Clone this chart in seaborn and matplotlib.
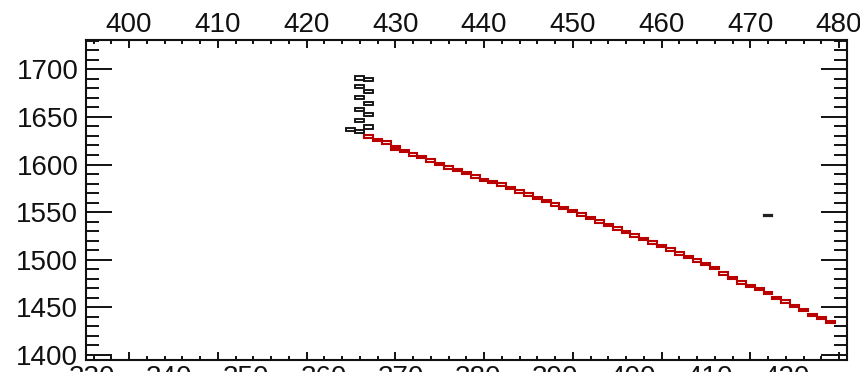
import numpy as np
import pandas as pd
import seaborn as sns
import matplotlib
matplotlib.use("Agg")
import matplotlib.pyplot as plt
from matplotlib.ticker import MultipleLocator

# ---------------- data ----------------
red_x = [427, 428, 429, 430, 430, 431, 432, 433, 434, 435, 436, 437, 438, 439,
         440, 441, 442, 443, 444, 445, 446, 447, 448, 449, 450, 451, 452, 453,
         454, 455, 456, 457, 458, 459, 460, 461, 462, 463, 464, 465, 466, 467,
         468, 469, 470, 471, 472, 473, 474, 475, 476, 477, 478, 479]
red_y = [1629.2, 1625.7, 1623.3, 1618.5, 1616.5, 1614.2, 1610.3, 1607.7, 1604.0,
         1600.5, 1597.0, 1594.0, 1591.0, 1587.6, 1584.0, 1581.6, 1578.8, 1575.3,
         1571.8, 1568.4, 1565.0, 1561.5, 1558.0, 1554.5, 1551.0, 1547.4, 1543.8,
         1540.2, 1536.6, 1533.0, 1529.3, 1525.6, 1521.9, 1518.2, 1514.4, 1510.6,
         1506.8, 1503.0, 1499.2, 1495.3, 1491.4, 1485.7, 1480.8, 1475.9, 1472.6,
         1469.0, 1465.0, 1459.8, 1456.3, 1451.6, 1447.2, 1442.2, 1438.8, 1434.6]

black_x = [426, 427, 426, 427, 426, 427, 426, 427, 426, 427, 425, 426]
black_y = [1690.9, 1689.5, 1681.7, 1677.2, 1670.4, 1663.8, 1658.0, 1652.2,
           1646.2, 1639.4, 1637.0, 1634.6]

lone_x = [472]
lone_y = [1546.1]

top_ticks = [400, 410, 420, 430, 440, 450, 460, 470, 480]
bottom_ticks = [330, 340, 350, 360, 370, 380, 390, 400, 410, 420]
y_ticks = [1400, 1450, 1500, 1550, 1600, 1650, 1700]

red_df = pd.DataFrame({"x": red_x, "y": red_y})
black_df = pd.DataFrame({"x": black_x, "y": black_y})
lone_df = pd.DataFrame({"x": lone_x, "y": lone_y})

# ---------------- style ----------------
sns.set_theme(style="ticks")
plt.rcParams["font.family"] = ["Liberation Sans", "DejaVu Sans"]
plt.rcParams["axes.linewidth"] = 1.4

FS = 20

fig = plt.figure(figsize=(8.6, 3.72), dpi=100)
fig.patch.set_facecolor("white")
ax = fig.add_axes([86 / 860, 1 - 360 / 372, (847 - 86) / 860, (360 - 40) / 372])
ax.set_facecolor("white")

RED = "#bb0000"


def boxes(df, h, color, lw):
    ax.bar(df["x"], h, bottom=df["y"] - h / 2, width=1.0, fill=False,
           edgecolor=color, linewidth=lw, align="center")


boxes(red_df, 2.6, RED, 1.5)
boxes(black_df, 3.2, "#111111", 1.35)
boxes(lone_df, 1.2, "#222222", 1.6)

ax.set_xlim(395.15, 480.9)
ax.set_ylim(1394.7, 1730.8)

ax.set_xticks(top_ticks)
ax.xaxis.set_minor_locator(MultipleLocator(2))
ax.set_yticks(y_ticks)
ax.yaxis.set_minor_locator(MultipleLocator(10))

ax.tick_params(axis="x", which="both", direction="in", top=True, bottom=True,
               labeltop=True, labelbottom=False, width=1.4, colors="#111111",
               labelsize=FS, pad=1.5)
ax.tick_params(axis="x", which="major", length=5.8)
ax.tick_params(axis="x", which="minor", length=3.2)
ax.tick_params(axis="y", which="both", direction="in", left=True, right=True,
               labelleft=True, width=1.4, colors="#111111", labelsize=FS, pad=5.5)
ax.tick_params(axis="y", which="major", length=18.5)
ax.tick_params(axis="y", which="minor", length=9.2)
for s in ax.spines.values():
    s.set_color("#111111")
    s.set_linewidth(1.5)
ax.grid(False)


# bottom axis with its own (offset) labelling, clipped by the figure edge
def fwd(t):
    return 334.79 + 1.1496 * (np.asarray(t) - 400.0)


def inv(b):
    return 400.0 + (np.asarray(b) - 334.79) / 1.1496


sec = ax.secondary_xaxis("bottom", functions=(fwd, inv))
sec.set_xticks(bottom_ticks)
sec.tick_params(length=0, labelsize=FS, pad=3.5, colors="#111111")
sec.spines["bottom"].set_visible(False)

fig.savefig("out.png", dpi=100, facecolor="white")
